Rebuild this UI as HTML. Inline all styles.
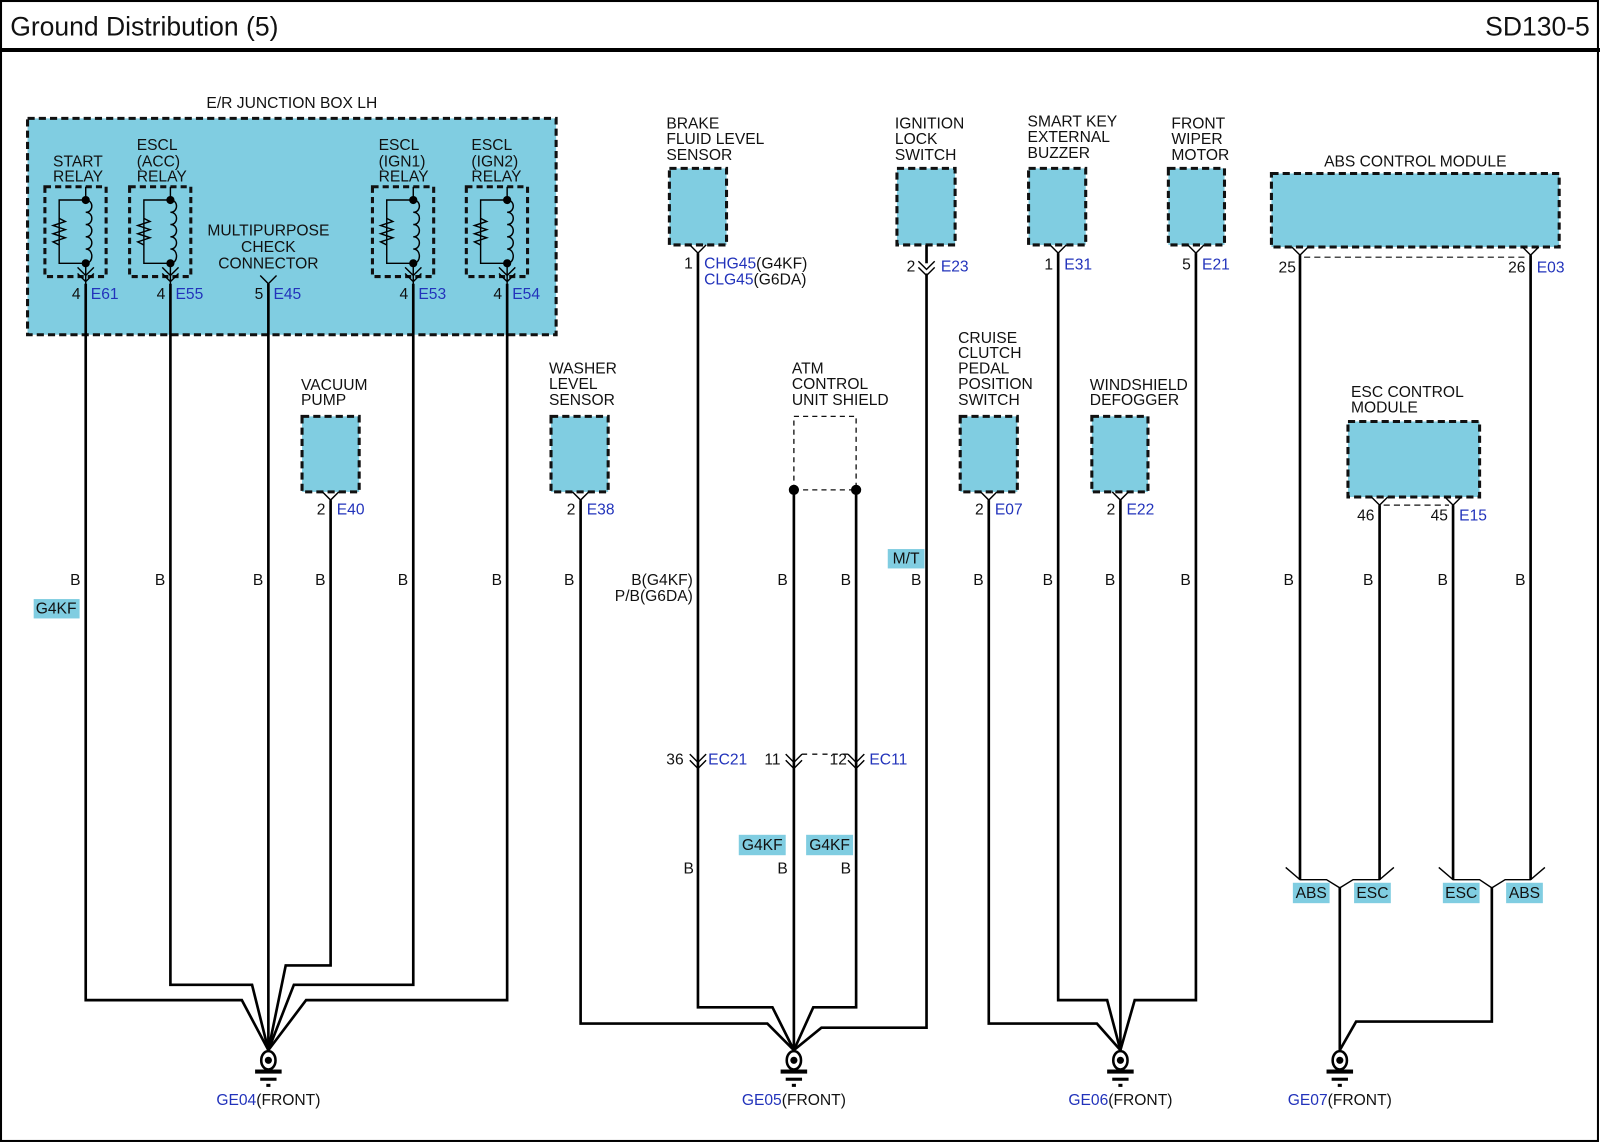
<!DOCTYPE html>
<html><head><meta charset="utf-8"><style>
html,body{margin:0;padding:0;background:#fff}
svg{display:block}
text{font-family:"Liberation Sans",Arial,sans-serif;font-size:15.3px;fill:#111}
.b{fill:#2233bb}
.w{stroke:#000;stroke-width:2.6;fill:none}
.t{stroke:#000;stroke-width:1.4;fill:none}
.box{fill:#80cde1;stroke:#111;stroke-width:3;stroke-dasharray:7,4}
.badge{fill:#80cde1}
</style></head><body>
<svg width="1600" height="1143" viewBox="0 0 1568 1120" preserveAspectRatio="none" xmlns="http://www.w3.org/2000/svg">
<rect x="1" y="1" width="1565" height="1117" fill="#fff" stroke="#000" stroke-width="2"/>
<line x1="0" y1="49" x2="1568" y2="49" stroke="#000" stroke-width="4"/>
<text x="10" y="35" style="font-size:26px">Ground Distribution (5)</text>
<text x="1558" y="35" text-anchor="end" style="font-size:26px">SD130-5</text>

<text x="286" y="106" text-anchor="middle">E/R JUNCTION BOX LH</text>
<rect class="box" x="27" y="116" width="518" height="212"/>
<g>
<g transform="translate(84,0)">
<rect x="-40" y="183" width="60" height="88" fill="none" stroke="#111" stroke-width="3" stroke-dasharray="6,4"/>
<path class="t" d="M0,183V196M0,196H-26V258H0"/>
<path class="t" d="M-26,214l6,3-12,4 12,4-12,4 12,4-12,4 6,3" fill="#80cde1"/>
<path class="t" d="M0,196c8,0 8,12 0,12c8,0 8,12 0,12c8,0 8,12 0,12c8,0 8,12 0,12c8,0 8,14 0,14"/>
<circle cx="0" cy="196" r="4"/><circle cx="0" cy="258" r="4"/>
<path class="t" d="M0,258V290M-8,262l8,8 8,-8M-8,268l8,8 8,-8"/>
</g>
<g transform="translate(167,0)">
<rect x="-40" y="183" width="60" height="88" fill="none" stroke="#111" stroke-width="3" stroke-dasharray="6,4"/>
<path class="t" d="M0,183V196M0,196H-26V258H0"/>
<path class="t" d="M-26,214l6,3-12,4 12,4-12,4 12,4-12,4 6,3" fill="#80cde1"/>
<path class="t" d="M0,196c8,0 8,12 0,12c8,0 8,12 0,12c8,0 8,12 0,12c8,0 8,12 0,12c8,0 8,14 0,14"/>
<circle cx="0" cy="196" r="4"/><circle cx="0" cy="258" r="4"/>
<path class="t" d="M0,258V290M-8,262l8,8 8,-8M-8,268l8,8 8,-8"/>
</g>
<g transform="translate(405,0)">
<rect x="-40" y="183" width="60" height="88" fill="none" stroke="#111" stroke-width="3" stroke-dasharray="6,4"/>
<path class="t" d="M0,183V196M0,196H-26V258H0"/>
<path class="t" d="M-26,214l6,3-12,4 12,4-12,4 12,4-12,4 6,3" fill="#80cde1"/>
<path class="t" d="M0,196c8,0 8,12 0,12c8,0 8,12 0,12c8,0 8,12 0,12c8,0 8,12 0,12c8,0 8,14 0,14"/>
<circle cx="0" cy="196" r="4"/><circle cx="0" cy="258" r="4"/>
<path class="t" d="M0,258V290M-8,262l8,8 8,-8M-8,268l8,8 8,-8"/>
</g>
<g transform="translate(497,0)">
<rect x="-40" y="183" width="60" height="88" fill="none" stroke="#111" stroke-width="3" stroke-dasharray="6,4"/>
<path class="t" d="M0,183V196M0,196H-26V258H0"/>
<path class="t" d="M-26,214l6,3-12,4 12,4-12,4 12,4-12,4 6,3" fill="#80cde1"/>
<path class="t" d="M0,196c8,0 8,12 0,12c8,0 8,12 0,12c8,0 8,12 0,12c8,0 8,12 0,12c8,0 8,14 0,14"/>
<circle cx="0" cy="196" r="4"/><circle cx="0" cy="258" r="4"/>
<path class="t" d="M0,258V290M-8,262l8,8 8,-8M-8,268l8,8 8,-8"/>
</g>
</g>
<text x="52" y="163">START</text><text x="52" y="178">RELAY</text>
<text x="134" y="147">ESCL</text><text x="134" y="163">(ACC)</text><text x="134" y="178">RELAY</text>
<text x="371" y="147">ESCL</text><text x="371" y="163">(IGN1)</text><text x="371" y="178">RELAY</text>
<text x="462" y="147">ESCL</text><text x="462" y="163">(IGN2)</text><text x="462" y="178">RELAY</text>
<text x="263" y="231" text-anchor="middle">MULTIPURPOSE</text>
<text x="263" y="247" text-anchor="middle">CHECK</text>
<text x="263" y="263" text-anchor="middle">CONNECTOR</text>
<path class="t" d="M255,270l8,8 8,-8"/>
<text x="79" y="293" text-anchor="end">4</text><text x="89" y="293" class="b">E61</text>
<text x="162" y="293" text-anchor="end">4</text><text x="172" y="293" class="b">E55</text>
<text x="258" y="293" text-anchor="end">5</text><text x="268" y="293" class="b">E45</text>
<text x="400" y="293" text-anchor="end">4</text><text x="410" y="293" class="b">E53</text>
<text x="492" y="293" text-anchor="end">4</text><text x="502" y="293" class="b">E54</text>

<path class="w" d="M84,278V980H237L263,1029"/>
<path class="w" d="M167,278V965H247L263,1029"/>
<path class="w" d="M263,278V1029"/>
<path class="w" d="M324,490V946H280L263,1029"/>
<path class="w" d="M405,278V965H288L263,1029"/>
<path class="w" d="M497,278V980H300L263,1029"/>

<text x="295" y="382">VACUUM</text><text x="295" y="397">PUMP</text>
<rect class="box" x="296" y="408" width="56" height="74"/>
<path class="t" d="M316,482l8,8 8,-8"/>
<text x="319" y="504" text-anchor="end">2</text><text x="330" y="504" class="b">E40</text>

<text x="538" y="366">WASHER</text><text x="538" y="381">LEVEL</text><text x="538" y="397">SENSOR</text>
<rect class="box" x="540" y="408" width="56" height="74"/>
<path class="t" d="M561,482l8,8 8,-8"/>
<text x="564" y="504" text-anchor="end">2</text><text x="575" y="504" class="b">E38</text>
<path class="w" d="M569,490V1003H752L778,1029"/>

<text x="653" y="126">BRAKE</text><text x="653" y="141">FLUID LEVEL</text><text x="653" y="157">SENSOR</text>
<rect class="box" x="656" y="165" width="56" height="75"/>
<path class="t" d="M676,240l8,8 8,-8"/>
<text x="679" y="263" text-anchor="end">1</text>
<text x="690" y="263"><tspan class="b">CHG45</tspan>(G4KF)</text>
<text x="690" y="279"><tspan class="b">CLG45</tspan>(G6DA)</text>
<path class="w" d="M684,248V987H757L778,1029"/>
<text x="679" y="573" text-anchor="end">B(G4KF)</text>
<text x="679" y="589" text-anchor="end">P/B(G6DA)</text>
<path class="t" d="M676,739l8,8 8,-8M676,745l8,8 8,-8"/>
<text x="670" y="749" text-anchor="end">36</text><text x="694" y="749" class="b">EC21</text>

<text x="776" y="366">ATM</text><text x="776" y="381">CONTROL</text><text x="776" y="397">UNIT SHIELD</text>
<path d="M778,480V408H839V480H778" fill="none" stroke="#111" stroke-width="1.3" stroke-dasharray="5,4"/>
<circle cx="778" cy="480" r="5"/><circle cx="839" cy="480" r="5"/>
<path class="w" d="M778,480V1029"/>
<path class="w" d="M839,480V987H797L778,1029"/>
<path class="t" d="M770,739l8,8 8,-8M770,745l8,8 8,-8M831,739l8,8 8,-8M831,745l8,8 8,-8"/>
<path d="M786,739H831" stroke="#111" stroke-width="1.3" stroke-dasharray="5,5"/>
<text x="765" y="749" text-anchor="end">11</text>
<text x="830" y="749" text-anchor="end">12</text><text x="852" y="749" class="b">EC11</text>
<rect class="badge" x="724" y="818" width="46" height="20"/><text x="747" y="833" text-anchor="middle">G4KF</text>
<rect class="badge" x="790" y="818" width="46" height="20"/><text x="813" y="833" text-anchor="middle">G4KF</text>
<text x="680" y="856" text-anchor="end">B</text><text x="772" y="856" text-anchor="end">B</text><text x="834" y="856" text-anchor="end">B</text>

<text x="877" y="126">IGNITION</text><text x="877" y="141">LOCK</text><text x="877" y="157">SWITCH</text>
<rect class="box" x="879" y="165" width="57" height="75"/>
<path class="w" d="M908,240V258"/>
<path class="t" d="M900,256l8,8 8,-8M900,262l8,8 8,-8"/>
<text x="897" y="266" text-anchor="end">2</text><text x="922" y="266" class="b">E23</text>
<path class="w" d="M908,268V1007H805L778,1029"/>
<rect class="badge" x="870" y="538" width="36" height="19"/><text x="888" y="552" text-anchor="middle">M/T</text>

<text x="939" y="336">CRUISE</text><text x="939" y="351">CLUTCH</text><text x="939" y="366">PEDAL</text><text x="939" y="381">POSITION</text><text x="939" y="397">SWITCH</text>
<rect class="box" x="941" y="408" width="56" height="74"/>
<path class="t" d="M961,482l8,8 8,-8"/>
<text x="964" y="504" text-anchor="end">2</text><text x="975" y="504" class="b">E07</text>
<path class="w" d="M969,490V1003H1075L1098,1029"/>

<text x="1007" y="124">SMART KEY</text><text x="1007" y="139">EXTERNAL</text><text x="1007" y="155">BUZZER</text>
<rect class="box" x="1008" y="165" width="56" height="75"/>
<path class="t" d="M1029,240l8,8 8,-8"/>
<text x="1032" y="264" text-anchor="end">1</text><text x="1043" y="264" class="b">E31</text>
<path class="w" d="M1037,248V980H1085L1098,1029"/>

<text x="1068" y="382">WINDSHIELD</text><text x="1068" y="397">DEFOGGER</text>
<rect class="box" x="1070" y="408" width="55" height="74"/>
<path class="t" d="M1090,482l8,8 8,-8"/>
<text x="1093" y="504" text-anchor="end">2</text><text x="1104" y="504" class="b">E22</text>
<path class="w" d="M1098,490V1029"/>

<text x="1148" y="126">FRONT</text><text x="1148" y="141">WIPER</text><text x="1148" y="157">MOTOR</text>
<rect class="box" x="1145" y="165" width="55" height="75"/>
<path class="t" d="M1164,240l8,8 8,-8"/>
<text x="1167" y="264" text-anchor="end">5</text><text x="1178" y="264" class="b">E21</text>
<path class="w" d="M1172,248V980H1112L1098,1029"/>

<text x="1387" y="163" text-anchor="middle">ABS CONTROL MODULE</text>
<rect class="box" x="1246" y="170" width="282" height="72"/>
<path class="t" d="M1266,242l8,8 8,-8M1492,242l8,8 8,-8"/>
<path d="M1278,252H1496" stroke="#111" stroke-width="1.2" stroke-dasharray="6,4"/>
<text x="1270" y="267" text-anchor="end">25</text>
<text x="1495" y="267" text-anchor="end">26</text><text x="1506" y="267" class="b">E03</text>
<path class="w" d="M1274,250V862"/>
<path class="w" d="M1500,250V862"/>

<text x="1324" y="389">ESC CONTROL</text><text x="1324" y="404">MODULE</text>
<rect class="box" x="1321" y="413" width="129" height="74"/>
<path class="t" d="M1344,487l8,8 8,-8M1416,487l8,8 8,-8"/>
<path d="M1356,495H1420" stroke="#111" stroke-width="1.2" stroke-dasharray="6,4"/>
<text x="1347" y="510" text-anchor="end">46</text>
<text x="1419" y="510" text-anchor="end">45</text><text x="1430" y="510" class="b">E15</text>
<path class="w" d="M1352,495V862"/>
<path class="w" d="M1424,495V862"/>

<g text-anchor="end">
<text x="79" y="573">B</text><text x="162" y="573">B</text><text x="258" y="573">B</text><text x="319" y="573">B</text>
<text x="400" y="573">B</text><text x="492" y="573">B</text><text x="563" y="573">B</text><text x="772" y="573">B</text>
<text x="834" y="573">B</text><text x="903" y="573">B</text><text x="964" y="573">B</text><text x="1032" y="573">B</text>
<text x="1093" y="573">B</text><text x="1167" y="573">B</text><text x="1268" y="573">B</text><text x="1346" y="573">B</text>
<text x="1419" y="573">B</text><text x="1495" y="573">B</text>
</g>
<rect class="badge" x="33" y="587" width="45" height="19"/><text x="55" y="601" text-anchor="middle">G4KF</text>

<path class="t" d="M1260,850L1274,862H1300L1313,870L1326,862H1352L1366,850"/>
<path class="t" d="M1410,850L1424,862H1450L1462,870L1475,862H1500L1514,850"/>
<path class="w" d="M1313,869V1029"/>
<path class="w" d="M1462,869V1001H1329L1313,1029"/>
<rect class="badge" x="1267" y="865" width="36" height="20"/><text x="1285" y="880" text-anchor="middle">ABS</text>
<rect class="badge" x="1327" y="865" width="36" height="20"/><text x="1345" y="880" text-anchor="middle">ESC</text>
<rect class="badge" x="1414" y="865" width="36" height="20"/><text x="1432" y="880" text-anchor="middle">ESC</text>
<rect class="badge" x="1476" y="865" width="36" height="20"/><text x="1494" y="880" text-anchor="middle">ABS</text>

<g transform="translate(263,0)">
<ellipse cx="0" cy="1039" rx="7" ry="9" fill="#fff" stroke="#000" stroke-width="2.5"/><circle cx="0" cy="1039" r="3.5"/>
<rect x="-13" y="1048" width="26" height="4"/><rect x="-8" y="1056" width="16" height="3"/><rect x="-2" y="1062" width="4" height="3"/>
</g>
<g transform="translate(778,0)">
<ellipse cx="0" cy="1039" rx="7" ry="9" fill="#fff" stroke="#000" stroke-width="2.5"/><circle cx="0" cy="1039" r="3.5"/>
<rect x="-13" y="1048" width="26" height="4"/><rect x="-8" y="1056" width="16" height="3"/><rect x="-2" y="1062" width="4" height="3"/>
</g>
<g transform="translate(1098,0)">
<ellipse cx="0" cy="1039" rx="7" ry="9" fill="#fff" stroke="#000" stroke-width="2.5"/><circle cx="0" cy="1039" r="3.5"/>
<rect x="-13" y="1048" width="26" height="4"/><rect x="-8" y="1056" width="16" height="3"/><rect x="-2" y="1062" width="4" height="3"/>
</g>
<g transform="translate(1313,0)">
<ellipse cx="0" cy="1039" rx="7" ry="9" fill="#fff" stroke="#000" stroke-width="2.5"/><circle cx="0" cy="1039" r="3.5"/>
<rect x="-13" y="1048" width="26" height="4"/><rect x="-8" y="1056" width="16" height="3"/><rect x="-2" y="1062" width="4" height="3"/>
</g>
<text x="263" y="1083" text-anchor="middle"><tspan class="b">GE04</tspan>(FRONT)</text>
<text x="778" y="1083" text-anchor="middle"><tspan class="b">GE05</tspan>(FRONT)</text>
<text x="1098" y="1083" text-anchor="middle"><tspan class="b">GE06</tspan>(FRONT)</text>
<text x="1313" y="1083" text-anchor="middle"><tspan class="b">GE07</tspan>(FRONT)</text>
</svg>
</body></html>
